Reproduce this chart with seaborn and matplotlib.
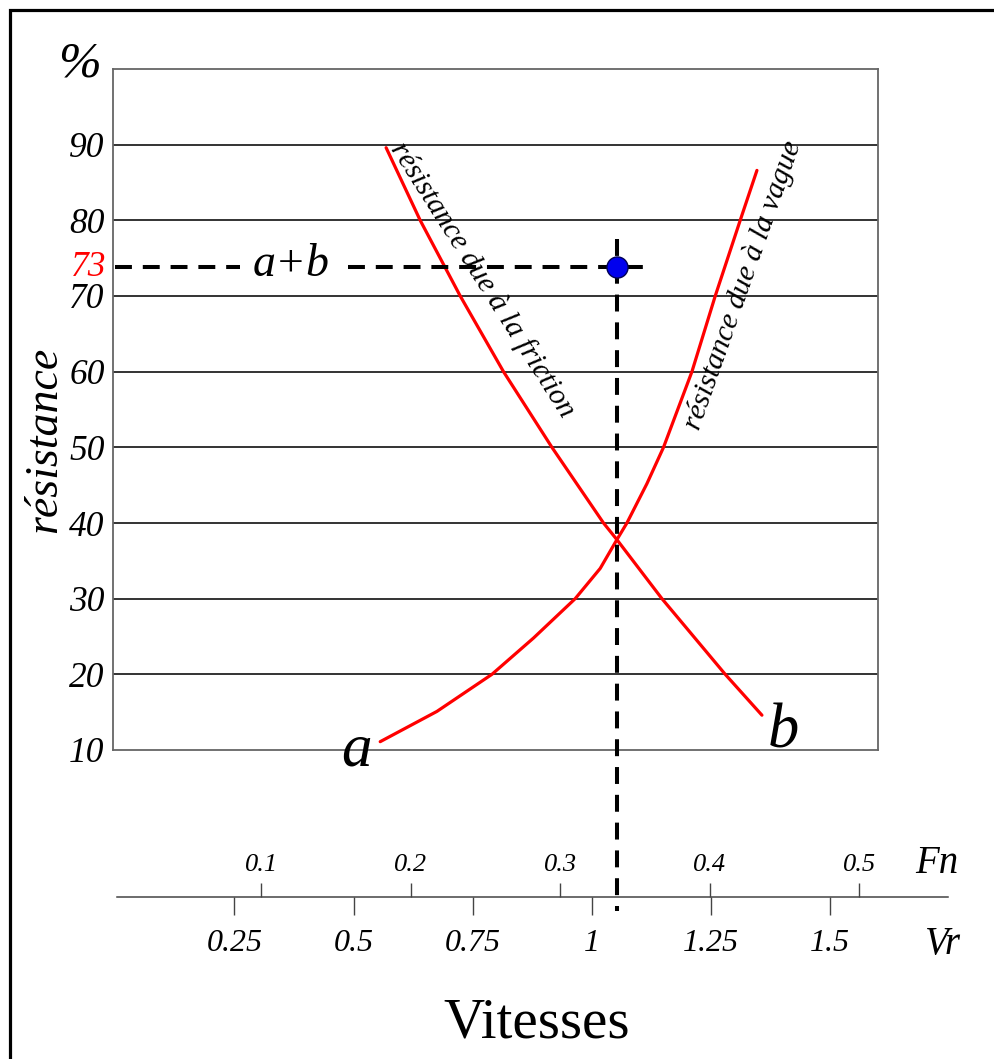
import numpy as np
import pandas as pd
import matplotlib
matplotlib.use("Agg")
import matplotlib.pyplot as plt
from matplotlib.patches import Rectangle
import seaborn as sns

# values (x in Vr, y in % resistance)
friction_vr = [0.568, 0.6395, 0.7235, 0.8143, 0.9159, 1.0241, 1.0522, 1.1467, 1.2795, 1.3565]
friction_r = [89.6, 80, 70, 60, 50, 40, 37.8, 30, 20, 14.6]
wave_vr = [0.5556, 0.6746, 0.790, 0.8773, 0.9647, 1.0172, 1.0522, 1.0732, 1.1152,
           1.150, 1.2096, 1.2585, 1.3109, 1.346]
wave_r = [11.1, 15.1, 20, 24.8, 30, 34.0, 37.8, 40, 45.2, 50, 60, 70, 80, 86.6]

y_ticks = [10, 20, 30, 40, 50, 60, 70, 80, 90]
vr_ticks = [0.25, 0.5, 0.75, 1, 1.25, 1.5]
vr_labels = ["0.25", "0.5", "0.75", "1", "1.25", "1.5"]
fn_ticks = [0.1, 0.2, 0.3, 0.4, 0.5]
fn_labels = ["0.1", "0.2", "0.3", "0.4", "0.5"]

speed_vr = 1.0522     # speed chosen
total_r = 73.8        # a+b point
total_label = "73"

sns.set_style("white")
plt.rcParams['font.family'] = ['Liberation Serif', 'DejaVu Serif']
plt.rcParams['text.color'] = 'black'
plt.rcParams['xtick.color'] = 'black'
plt.rcParams['ytick.color'] = 'black'

W, H = 995, 1059
fig = plt.figure(figsize=(W / 100, H / 100), dpi=100)

def fx(px):
    return px / W

def fy(py):
    return 1 - py / H

# main chart
ax = fig.add_axes([fx(113), fy(750), (878 - 113) / W, (750 - 69) / H])
ax.set_xlim(-0.005, 1.6)
ax.set_ylim(10, 100)
ax.set_yticks(y_ticks)
ax.set_yticklabels([str(v) for v in y_ticks], fontsize=25.5, fontstyle='italic')
ax.set_xticks([])
ax.tick_params(axis='y', length=0, pad=6)
for v in y_ticks[1:]:
    ax.axhline(v, color='#111111', lw=1.2, zorder=1)
for s in ax.spines.values():
    s.set_color('#666666')
    s.set_linewidth(1.3)

sns.lineplot(x=friction_vr, y=friction_r, ax=ax, color='red', lw=2.3, sort=False, zorder=3)
sns.lineplot(x=wave_vr, y=wave_r, ax=ax, color='red', lw=2.3, sort=False, zorder=3)

dash = dict(color='black', lw=2.9, dashes=(4.2, 2.7), zorder=4, clip_on=False)
ax.plot([speed_vr, speed_vr], [77.5, -11.25], **dash)
ax.plot([0.0, 0.262], [total_r, total_r], **dash)
ax.plot([0.489, 1.112], [total_r, total_r], **dash)
sns.scatterplot(x=[speed_vr], y=[total_r], ax=ax, s=230, color='#0000ee',
                edgecolor='#000055', linewidth=1, zorder=6)

ax.text(0.369, 72.6, "a+b", fontsize=33, fontstyle='italic', ha='center', va='baseline')
ax.text(-0.008, total_r, total_label, transform=ax.get_yaxis_transform(), color='red',
        fontsize=25.5, fontstyle='italic', ha='right', va='center')
ax.text(0.505, 7.9, "a", fontsize=44, fontstyle='italic', ha='center', va='baseline', clip_on=False)
ax.text(1.401, 10.3, "b", fontsize=45, fontstyle='italic', ha='center', va='baseline', clip_on=False)
ax.text(0.770, 72.1, "résistance due à la friction", fontsize=21.5, fontstyle='italic',
        rotation=-57.5, rotation_mode='anchor', ha='center', va='center')
ax.text(1.317, 71.4, "résistance due à la vague", fontsize=21.5, fontstyle='italic',
        rotation=70.5, rotation_mode='anchor', ha='center', va='center')

# speed scales
left, right = 116.7, 948.3
ax_vr = fig.add_axes([fx(left), fy(897), (right - left) / W, 0.04])
ax_vr.set_xlim(0.0031, 1.748)
ax_vr.set_xticks(vr_ticks)
ax_vr.set_xticklabels(vr_labels, fontsize=23, fontstyle='italic')
ax_vr.set_yticks([])
ax_vr.tick_params(axis='x', direction='out', length=13, width=1, color='#444444', pad=10, bottom=True)
for k, s in ax_vr.spines.items():
    s.set_visible(k == 'bottom')
ax_vr.spines['bottom'].set_color('#444444')
ax_vr.spines['bottom'].set_linewidth(1.1)
ax_vr.patch.set_alpha(0)

ax_fn = fig.add_axes([fx(left), fy(897) - 0.01, (right - left) / W, 0.01])
ax_fn.set_xlim(0.00328, 0.5595)
ax_fn.xaxis.tick_top()
ax_fn.set_xticks(fn_ticks)
ax_fn.set_xticklabels(fn_labels, fontsize=19, fontstyle='italic')
ax_fn.set_yticks([])
ax_fn.tick_params(axis='x', direction='out', length=10, width=1, color='#444444', pad=5, top=True)
for s in ax_fn.spines.values():
    s.set_visible(False)
ax_fn.patch.set_alpha(0)

fig.text(fx(915), fy(873), "Fn", fontsize=28, fontstyle='italic', ha='left', va='baseline')
fig.text(fx(925), fy(954), "Vr", fontsize=28, fontstyle='italic', ha='left', va='baseline')
fig.text(fx(537), fy(1038), "Vitesses", fontsize=41, ha='center', va='baseline')
fig.text(fx(79), fy(64), "%", fontsize=37, fontstyle='italic', ha='center', va='center')
fig.text(fx(45), fy(440), "résistance", fontsize=33, fontstyle='italic', rotation=90,
         ha='center', va='center')

fig.patches.append(Rectangle((fx(9.5), -0.2), 1.5, fy(9.5) + 0.2, transform=fig.transFigure,
                             fill=False, lw=2.3, edgecolor='black'))

fig.savefig("out.png", dpi=100)
